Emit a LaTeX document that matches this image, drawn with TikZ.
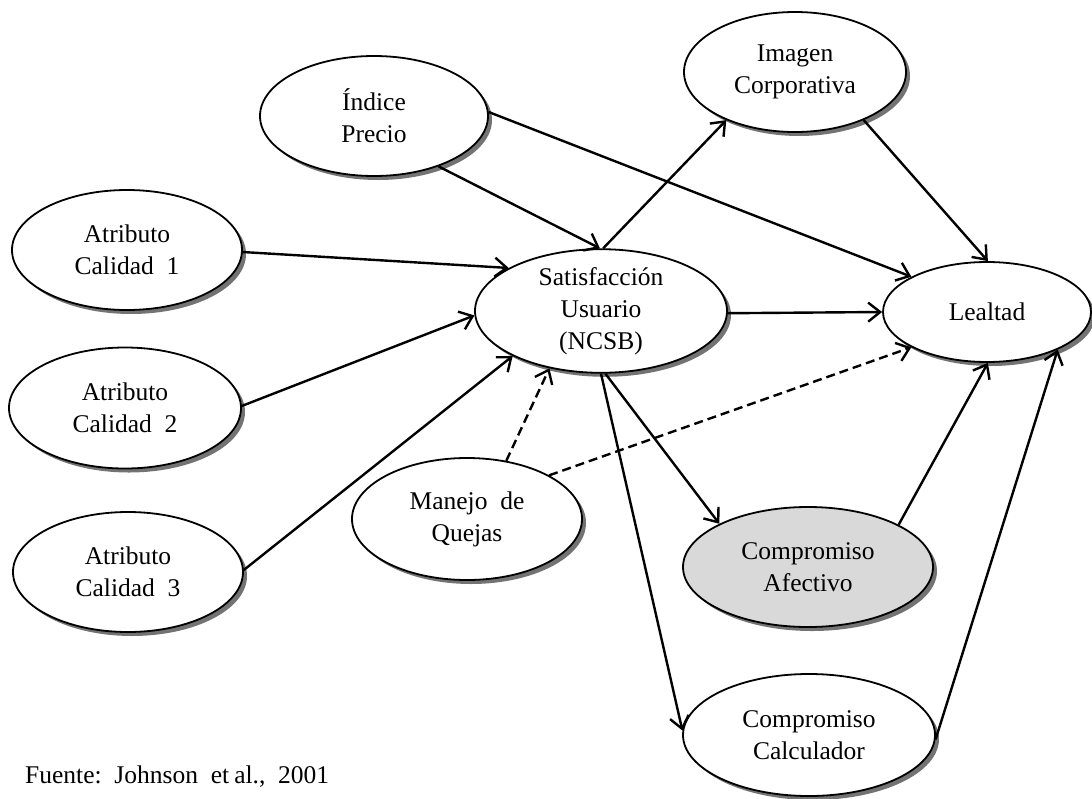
\documentclass[tikz,border=0pt]{standalone}
\usepackage{fontspec}
\setmainfont{Liberation Serif}
\usetikzlibrary{shapes.geometric,shadows,arrows.meta}
\definecolor{afectivofill}{RGB}{217,217,217}

\begin{document}
\begin{tikzpicture}[x=1pt,y=-1pt,
  construct/.style={ellipse, draw=black, line width=1.8pt, fill=white,
    inner sep=0pt, align=center, font=\fontsize{25.5}{32}\selectfont,
    drop shadow={shadow xshift=4pt, shadow yshift=-4pt, fill=black!55, opacity=1}},
  link/.style={line width=2.4pt, -{Straight Barb[length=12pt,width=19pt]}},
  hint/.style={link, dash pattern=on 9pt off 5pt}]

\useasboundingbox (0,0) rectangle (1092,798);

% latent constructs
\node[construct, minimum width=228pt, minimum height=120pt] (ind) at (374,116) {Índice\\Precio};
\node[construct, minimum width=222pt, minimum height=120pt] (img) at (795,72) {Imagen\\Corporativa};
\node[construct, minimum width=230pt, minimum height=120pt] (a1) at (127,250) {Atributo\\Calidad~~1};
\node[construct, minimum width=232pt, minimum height=121pt] (a2) at (125,408) {Atributo\\Calidad~~2};
\node[construct, minimum width=230pt, minimum height=120pt] (a3) at (128,572) {Atributo\\Calidad~~3};
\node[construct, minimum width=252pt, minimum height=122pt] (sat) at (601,311) {Satisfacción\\Usuario\\(NCSB)};
\node[construct, minimum width=208pt, minimum height=100pt] (leal) at (987,312) {Lealtad};
\node[construct, minimum width=230pt, minimum height=122pt] (man) at (467,519) {Manejo~~de\\Quejas};
\node[construct, fill=afectivofill, minimum width=250pt, minimum height=120pt] (afe) at (808,567) {Compromiso\\Afectivo};
\node[construct, minimum width=252pt, minimum height=122pt] (cal) at (809,735) {Compromiso\\Calculador};

% source note
\node[anchor=base west, inner sep=0pt, font=\fontsize{25.5}{30}\selectfont] (src) at (25,783)
  {Fuente:~~Johnson~~et\hspace{0.2em}al.,~~2001};

% structural paths
\draw[link] (ind.-38) -- (sat.91);
\draw[link] (ind.2) -- (leal.155);
\draw[link] (a1.-1) -- (sat.155);
\draw[link] (a2.1) -- (sat.182);
\draw[link] (a3.1) -- (sat.207);
\draw[link] (sat.88) -- (img.215);
\draw[link] (img.-35) -- (leal.89);
\draw[link] (sat.-1) -- (leal.180);
\draw[hint] (man.56) -- (sat.228);
\draw[hint] (man.28) -- (leal.205);
\draw[link] (sat.-86) -- (afe.154);
\draw[link] (sat.-90) -- (cal.178);
\draw[link] (afe.25) -- (leal.-89);
\draw[link] (cal.-2) -- (leal.-28);
\end{tikzpicture}
\end{document}
